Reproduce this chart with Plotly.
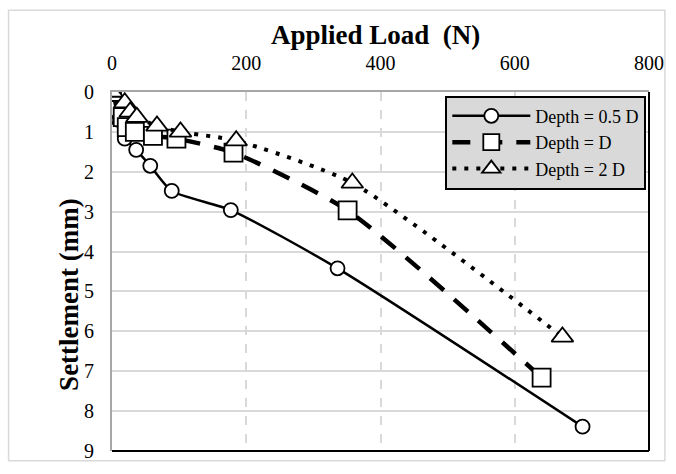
import plotly.graph_objects as go

series_names = ["Depth = 0.5 D", "Depth = D", "Depth = 2 D"]

load_05D = [0, 10, 19, 36, 57, 89, 177, 336, 701]
settle_05D = [0, 0.7, 1.17, 1.45, 1.85, 2.48, 2.96, 4.42, 8.39]

load_1D = [0, 16, 22, 34, 61, 96, 181, 351, 640]
settle_1D = [0, 0.63, 0.88, 1.0, 1.1, 1.17, 1.52, 2.97, 7.16]

load_2D = [0, 19, 27, 37, 67, 102, 185, 358, 671]
settle_2D = [0, 0.27, 0.5, 0.63, 0.85, 1.0, 1.22, 2.28, 6.14]

x_ticks = [0, 200, 400, 600, 800]
y_ticks = [0, 1, 2, 3, 4, 5, 6, 7, 8, 9]

FONT = "Liberation Serif"

fig = go.Figure()
fig.add_trace(go.Scatter(
    x=load_05D, y=settle_05D, name=series_names[0], mode="lines+markers",
    line=dict(color="black", width=2.5, shape="spline", smoothing=0.6),
    marker=dict(symbol="circle", size=14, color="white", line=dict(color="black", width=1.8)),
))
fig.add_trace(go.Scatter(
    x=load_1D, y=settle_1D, name=series_names[1], mode="lines+markers",
    line=dict(color="black", width=4.5, dash="18px,14px", shape="spline", smoothing=0.6),
    marker=dict(symbol="square", size=18, color="white", line=dict(color="black", width=1.8)),
))
fig.add_trace(go.Scatter(
    x=load_2D, y=settle_2D, name=series_names[2], mode="lines+markers",
    line=dict(color="black", width=4, dash="4px,8px", shape="spline", smoothing=0.6),
    marker=dict(symbol="triangle-up", size=19, color="white", line=dict(color="black", width=1.8)),
))

fig.update_layout(
    width=676, height=474,
    margin=dict(l=112, r=24, t=92, b=14),
    paper_bgcolor="white", plot_bgcolor="white",
    font=dict(family=FONT, size=20, color="black"),
    showlegend=True,
    legend=dict(
        x=0.995, y=0.99, xanchor="right", yanchor="top",
        bgcolor="#d9d9d9", bordercolor="black", borderwidth=2,
        font=dict(family=FONT, size=18, color="black"),
        itemwidth=78, tracegroupgap=0,
    ),
    xaxis=dict(
        side="top", range=[0, 800], tickvals=x_ticks, ticktext=[str(v) for v in x_ticks],
        showgrid=True, gridcolor="#d9d9d9", griddash="dash", gridwidth=1.5,
        showline=True, linecolor="#a6a6a6", linewidth=2,
        zeroline=False, ticks="", ticklabelstandoff=12,
        tickfont=dict(family=FONT, size=20),
    ),
    yaxis=dict(
        range=[9, 0], tickvals=y_ticks, ticktext=[str(v) for v in y_ticks],
        showgrid=True, gridcolor="#d9d9d9", gridwidth=1.5,
        showline=True, linecolor="#a6a6a6", linewidth=2,
        zeroline=False, ticks="", ticklabelstandoff=12,
        tickfont=dict(family=FONT, size=20),
    ),
    annotations=[
        dict(text="<b>Applied Load  (N)</b>", xref="paper", yref="paper",
             x=0.49, y=1.16, xanchor="center", yanchor="middle", showarrow=False,
             font=dict(family=FONT, size=27)),
        dict(text="<b>Settlement (mm)</b>", xref="paper", yref="paper",
             x=-0.08, y=0.435, xanchor="center", yanchor="middle", showarrow=False,
             textangle=-90, font=dict(family=FONT, size=27)),
    ],
    shapes=[
        dict(type="line", xref="paper", yref="paper", x0=1, x1=1, y0=0, y1=1,
             line=dict(color="black", width=2)),
        dict(type="line", xref="paper", yref="paper", x0=0, x1=1, y0=0, y1=0,
             line=dict(color="black", width=2)),
        dict(type="rect", xref="paper", yref="paper",
             x0=-0.1926, x1=1.0296, y0=-0.027, y1=1.228,
             line=dict(color="#d9d9d9", width=1.5), layer="below"),
    ],
)

fig.write_html("out.html")
